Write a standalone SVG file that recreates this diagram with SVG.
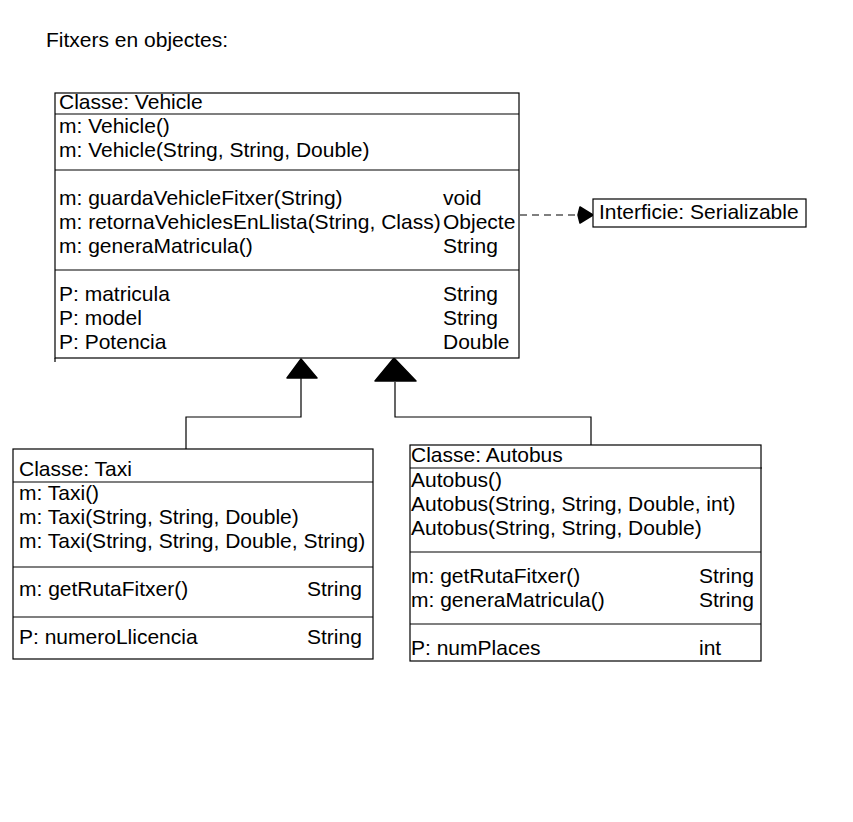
<svg xmlns="http://www.w3.org/2000/svg" width="853" height="822" viewBox="0 0 853 822">
<style>
text{font-family:"Liberation Sans",Arial,sans-serif;font-size:21px;fill:#000}
.box{fill:#fff;stroke:#000;stroke-width:1.2}
.ln{stroke:#000;stroke-width:1.2;fill:none}
.dash{stroke:#000;stroke-width:1.2;fill:none;stroke-dasharray:7,5}
.head{fill:#000;stroke:#000;stroke-width:1.5;stroke-linejoin:round}
</style>
<rect width="853" height="822" fill="#fff"/>
<text x="46" y="47">Fitxers en objectes:</text>

<g id="connectors">
  <path class="ln" d="M301,378 V417 H186 V449"/>
  <polygon class="head" points="301,359 317,378 287,378"/>
  <path class="ln" d="M395,382 V417 H591 V445"/>
  <polygon class="head" points="394,358 416,381 375,381"/>
  <path class="dash" d="M520,215 H580"/>
  <polygon class="head" points="580,207 593,215 580,223 578,215"/>
</g>

<g id="vehicle">
  <rect class="box" x="55" y="93" width="464" height="265"/>
  <path class="ln" d="M55,114 H519 M55,170 H519 M55,270 H519 M55,358 V362"/>
  <text x="59" y="109">Classe: Vehicle</text>
  <text x="59" y="133">m: Vehicle()</text>
  <text x="59" y="157">m: Vehicle(String, String, Double)</text>
  <text x="59" y="205">m: guardaVehicleFitxer(String)</text>
  <text x="443" y="205">void</text>
  <text x="59" y="229">m: retornaVehiclesEnLlista(String, Class)</text>
  <text x="443" y="229">Objecte</text>
  <text x="59" y="253">m: generaMatricula()</text>
  <text x="443" y="253">String</text>
  <text x="59" y="301">P: matricula</text>
  <text x="443" y="301">String</text>
  <text x="59" y="325">P: model</text>
  <text x="443" y="325">String</text>
  <text x="59" y="349">P: Potencia</text>
  <text x="443" y="349">Double</text>
</g>

<g id="serializable">
  <rect class="box" x="593" y="199" width="213" height="28"/>
  <text x="599" y="219">Interficie: Serializable</text>
</g>

<g id="taxi">
  <rect class="box" x="13" y="449" width="360" height="210"/>
  <path class="ln" d="M13,482 H373 M13,567 H373 M13,617 H373"/>
  <text x="19" y="476">Classe: Taxi</text>
  <text x="19" y="500">m: Taxi()</text>
  <text x="19" y="524">m: Taxi(String, String, Double)</text>
  <text x="19" y="548">m: Taxi(String, String, Double, String)</text>
  <text x="19" y="596">m: getRutaFitxer()</text>
  <text x="307" y="596">String</text>
  <text x="19" y="644">P: numeroLlicencia</text>
  <text x="307" y="644">String</text>
</g>

<g id="autobus">
  <rect class="box" x="410" y="445" width="351" height="216"/>
  <path class="ln" d="M410,468 H762 M410,552 H761 M410,624 H761"/>
  <text x="411" y="462">Classe: Autobus</text>
  <text x="411" y="487">Autobus()</text>
  <text x="411" y="511">Autobus(String, String, Double, int)</text>
  <text x="411" y="535">Autobus(String, String, Double)</text>
  <text x="411" y="583">m: getRutaFitxer()</text>
  <text x="699" y="583">String</text>
  <text x="411" y="607">m: generaMatricula()</text>
  <text x="699" y="607">String</text>
  <text x="411" y="655">P: numPlaces</text>
  <text x="699" y="655">int</text>
</g>
</svg>
